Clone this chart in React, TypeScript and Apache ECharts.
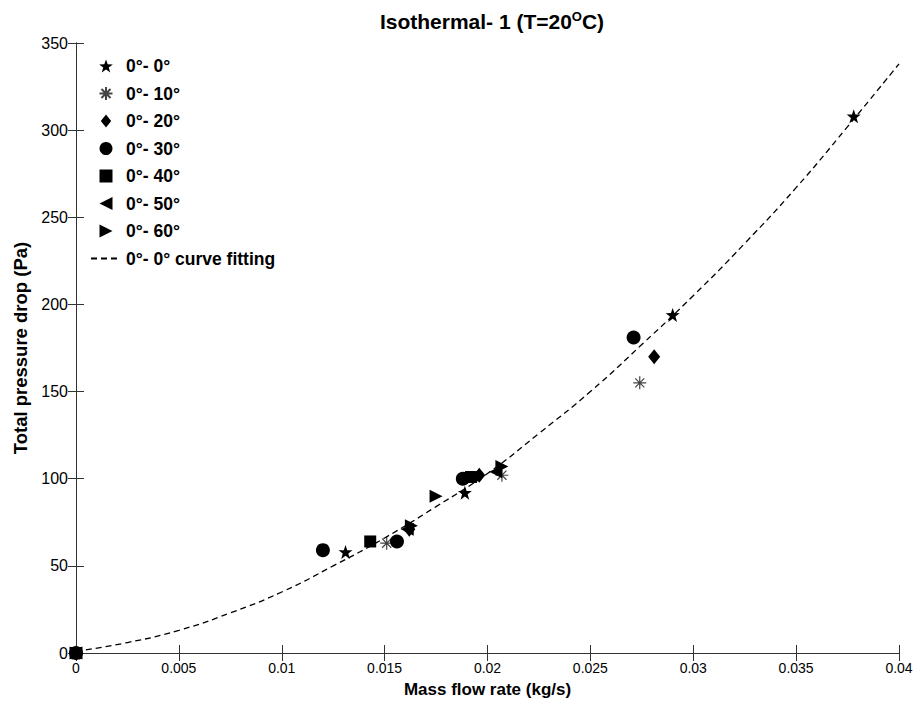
import React, { useEffect, useRef } from "react";
import * as echarts from "echarts";

// ---- data ----
const seriesNames = ["0°- 0°", "0°- 10°", "0°- 20°", "0°- 30°", "0°- 40°", "0°- 50°", "0°- 60°"];
const fitName = "0°- 0° curve fitting";

const s0x = [0, 0.0131, 0.0189, 0.029, 0.0378];
const s0y = [0, 58, 92, 194, 308];
const s10x = [0, 0.0151, 0.0207, 0.0274];
const s10y = [0, 63, 102, 155];
const s20x = [0, 0.0162, 0.0196, 0.0281];
const s20y = [0, 71, 102, 170];
const s30x = [0, 0.012, 0.0156, 0.0188, 0.0271];
const s30y = [0, 59, 64, 100, 181];
const s40x = [0, 0.0143, 0.0192];
const s40y = [0, 64, 101];
const s50x = [0, 0.0161, 0.0204];
const s50y = [0, 71, 104];
const s60x = [0, 0.0163, 0.0175, 0.0207];
const s60y = [0, 73, 90, 107];

const fitX = [0, 0.0025, 0.005, 0.0075, 0.01, 0.0125, 0.015, 0.0175, 0.02, 0.0225, 0.025, 0.0275, 0.03, 0.0325, 0.035, 0.0375, 0.04];
const fitY = [1, 6, 13, 23, 35, 50, 66, 84, 103, 126, 150, 177, 205, 235, 267, 302, 338];

const xMin = 0, xMax = 0.04, xInterval = 0.005;
const yMin = 0, yMax = 350, yInterval = 50;

const titleText = "Isothermal- 1 (T=20{sup|O}C)";
const xName = "Mass flow rate (kg/s)";
const yName = "Total pressure drop (Pa)";

const FONT = "'Liberation Sans', Arial, Helvetica, sans-serif";

const STAR = "path://M100,0 L123.5,67.6 L195.1,69.1 L138,112.4 L158.8,180.9 L100,140 L41.2,180.9 L62,112.4 L4.9,69.1 L76.5,67.6 Z";
const ASTER = "path://M50,0 L50,100 M0,50 L100,50 M15,15 L85,85 M15,85 L85,15";
const DIAM = "path://M40,0 L80,50 L40,100 L0,50 Z";
const SQUARE = "path://M0,0 L100,0 L100,100 L0,100 Z";
const TRI_L = "path://M0,50 L100,0 L100,100 Z";
const TRI_R = "path://M0,0 L100,50 L0,100 Z";

const zip = (xs: number[], ys: number[]) => xs.map((x, i) => [x, ys[i]]);

export default function App() {
  const ref = useRef<HTMLDivElement>(null);
  useEffect(() => {
    if (!ref.current) return;
    const chart = echarts.init(ref.current, null, { renderer: "svg" });
    const axisLine = { show: true, lineStyle: { color: "#333", width: 1 } };
    const tick = { show: true, inside: true, length: 8, lineStyle: { color: "#333" } };
    const symbols = [STAR, ASTER, DIAM, "circle", SQUARE, TRI_L, TRI_R];
    const sizes: any[] = [14, 13, [12, 15], 14, 12, 13, 13];
    const datas = [
      zip(s0x, s0y), zip(s10x, s10y), zip(s20x, s20y), zip(s30x, s30y),
      zip(s40x, s40y), zip(s50x, s50y), zip(s60x, s60y),
    ];
    const scatter = seriesNames.map((name, i) => ({
      name,
      type: "scatter",
      symbol: symbols[i],
      symbolSize: sizes[i],
      data: datas[i],
      itemStyle: i === 1
        ? { color: "rgba(0,0,0,0)", borderColor: "#444", borderWidth: 1.2, opacity: 1 }
        : { color: "#000", opacity: 1 },
      emphasis: { disabled: true },
    }));
    chart.setOption({
      animation: false,
      backgroundColor: "#fff",
      title: {
        text: titleText,
        left: 487,
        textAlign: "center",
        top: 5,
        textStyle: {
          fontFamily: FONT, fontSize: 21, fontWeight: "bold", color: "#000",
          rich: { sup: { fontFamily: FONT, fontSize: 13, fontWeight: "bold", color: "#000", verticalAlign: "top", padding: [0, 0, 10, 0] } },
        },
      },
      legend: {
        orient: "vertical",
        left: 85,
        top: 52,
        itemWidth: 30,
        itemHeight: 13,
        itemGap: 9.5,
        textStyle: { fontFamily: FONT, fontSize: 17.5, fontWeight: "bold", color: "#000" },
        data: [
          ...seriesNames.map((n, i) => ({ name: n, icon: symbols[i] })),
          { name: fitName, itemStyle: { opacity: 0 } },
        ],
      },
      grid: { left: 76, right: 24, top: 43, bottom: 54, containLabel: false },
      xAxis: [
        {
          type: "value", min: xMin, max: xMax, interval: xInterval,
          name: xName, nameLocation: "middle", nameGap: 28,
          nameTextStyle: { fontFamily: FONT, fontSize: 17, fontWeight: "bold", color: "#000" },
          axisLine, axisTick: tick, splitLine: { show: false },
          axisLabel: { color: "#000", fontSize: 14, fontFamily: FONT, margin: 8 },
        },
        {
          type: "value", position: "top", min: xMin, max: xMax, interval: xInterval,
          axisLine, axisTick: tick, splitLine: { show: false }, axisLabel: { show: false },
        },
      ],
      yAxis: [
        {
          type: "value", min: yMin, max: yMax, interval: yInterval,
          name: yName, nameLocation: "middle", nameGap: 40,
          nameTextStyle: { fontFamily: FONT, fontSize: 18.5, fontWeight: "bold", color: "#000" },
          axisLine, axisTick: tick, splitLine: { show: false },
          axisLabel: { color: "#000", fontSize: 16, fontFamily: FONT, margin: 8 },
        },
        {
          type: "value", position: "right", min: yMin, max: yMax, interval: yInterval,
          axisLine, axisTick: tick, splitLine: { show: false }, axisLabel: { show: false },
        },
      ],
      series: [
        ...scatter,
        {
          name: fitName,
          type: "line",
          smooth: true,
          symbol: "none",
          showSymbol: false,
          data: zip(fitX, fitY),
          lineStyle: { color: "#000", width: 1.3, type: [6, 4] },
          itemStyle: { color: "#000" },
          emphasis: { disabled: true },
          z: 3,
        },
      ],
    });
    return () => chart.dispose();
  }, []);
  return <div ref={ref} style={{ width: 923, height: 707, position: "absolute", left: 0, top: 0 }} />;
}
